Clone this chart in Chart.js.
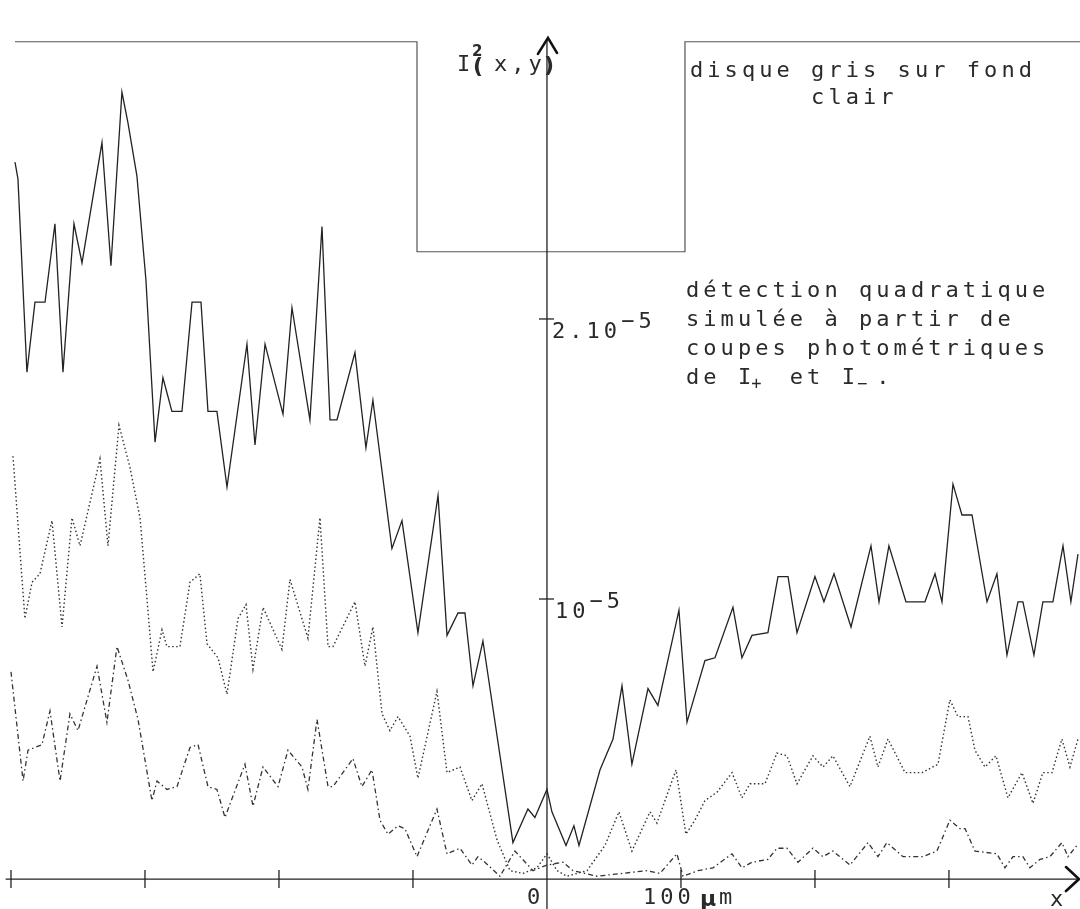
<!DOCTYPE html>
<html>
<head>
<meta charset="utf-8">
<script src="https://cdn.jsdelivr.net/npm/chart.js@4.4.1/dist/chart.umd.min.js"></script>
<style>
html, body { margin: 0; padding: 0; background: #fff; }
#wrap { width: 1080px; height: 909px; }
</style>
</head>
<body>
<div id="wrap"><canvas id="myChart"></canvas></div>
<script>
// x in micrometres, values in units of 10^-5
var solidX = [-397.0,-394.8,-388.1,-382.1,-374.6,-367.2,-361.2,-353.0,-347.0,-332.1,-325.4,-317.2,-312.7,-306.0,-299.3,-292.5,-286.6,-279.9,-272.4,-264.9,-258.2,-253.0,-246.3,-238.8,-223.9,-217.9,-210.4,-197.0,-190.3,-176.9,-167.9,-161.9,-156.7,-143.3,-135.1,-129.9,-115.7,-108.2,-96.3,-81.3,-74.6,-66.4,-61.2,-55.2,-47.8,-25.4,-14.2,-9.0,0,3.7,14.2,20.1,23.9,39.6,49.3,56.0,63.4,75.4,82.8,98.5,104.5,117.9,125.4,138.8,145.5,153.0,164.9,172.4,179.9,186.6,200.0,206.7,214.2,226.9,241.8,247.8,255.2,267.9,282.1,289.6,294.8,303.0,309.7,317.2,328.4,335.8,343.3,351.5,355.2,363.4,370.1,377.6,385.1,391.0,396.3];
var solidY = [2.56,2.50,1.81,2.06,2.06,2.34,1.81,2.34,2.20,2.63,2.19,2.81,2.70,2.51,2.14,1.56,1.79,1.67,1.67,2.06,2.06,1.67,1.67,1.40,1.91,1.55,1.91,1.66,2.04,1.64,2.33,1.64,1.64,1.88,1.54,1.71,1.18,1.28,0.88,1.37,0.87,0.95,0.95,0.69,0.85,0.13,0.25,0.22,0.32,0.24,0.12,0.19,0.12,0.39,0.50,0.69,0.41,0.68,0.62,0.96,0.56,0.78,0.79,0.97,0.79,0.87,0.88,1.08,1.08,0.88,1.08,0.99,1.09,0.90,1.19,0.99,1.19,0.99,0.99,1.09,0.99,1.41,1.30,1.30,0.99,1.09,0.80,0.99,0.99,0.80,0.99,0.99,1.19,0.99,1.16];

var dotX = [-398.5,-389.6,-384.3,-378.4,-369.4,-361.9,-354.5,-348.5,-333.6,-327.6,-319.4,-311.2,-303.7,-298.5,-294.0,-287.3,-283.6,-273.9,-266.4,-259.0,-253.7,-245.5,-238.8,-230.6,-224.6,-219.4,-211.9,-197.8,-191.8,-178.4,-169.4,-163.4,-159.7,-143.3,-135.8,-129.9,-123.1,-117.2,-111.2,-102.2,-96.3,-82.1,-74.6,-64.9,-56.0,-48.5,-37.3,-27.6,-17.9,-7.5,0,7.5,14.9,29.9,43.3,53.7,63.4,76.9,82.1,96.3,103.7,110.4,117.9,126.9,138.1,145.5,151.5,162.7,171.6,179.1,186.6,198.5,206.0,213.4,226.1,241.0,247.0,254.5,267.2,279.9,291.8,300.7,306.7,314.2,319.4,326.9,335.1,344.0,354.5,362.7,370.1,376.9,384.3,390.3,396.3];
var dotY = [1.51,0.93,1.06,1.09,1.28,0.90,1.29,1.19,1.50,1.19,1.62,1.47,1.29,1.00,0.74,0.89,0.83,0.83,1.06,1.09,0.84,0.79,0.66,0.93,0.98,0.75,0.97,0.82,1.07,0.86,1.29,0.83,0.83,0.99,0.76,0.90,0.59,0.53,0.58,0.51,0.36,0.67,0.38,0.40,0.28,0.34,0.14,0.03,0.02,0.04,0.09,0.03,0.01,0.03,0.12,0.24,0.10,0.24,0.20,0.39,0.16,0.21,0.28,0.31,0.38,0.29,0.34,0.34,0.45,0.44,0.34,0.44,0.40,0.44,0.33,0.51,0.40,0.50,0.38,0.38,0.41,0.64,0.58,0.58,0.46,0.40,0.44,0.29,0.38,0.27,0.38,0.38,0.50,0.40,0.50];

var dashX = [-400.0,-391.0,-387.3,-376.9,-370.9,-363.4,-356.0,-350.0,-335.8,-328.4,-320.9,-312.7,-305.2,-294.8,-291.0,-283.6,-276.1,-266.4,-260.4,-253.0,-246.3,-240.3,-225.4,-219.4,-211.9,-200.7,-193.3,-182.8,-178.4,-171.6,-163.4,-159.7,-144.8,-138.1,-130.6,-124.6,-118.7,-111.2,-106.0,-97.0,-82.1,-74.6,-64.9,-56.0,-51.5,-46.3,-35.1,-23.9,-10.4,0,11.9,19.4,37.3,74.6,84.3,97.0,101.5,112.7,123.9,138.1,145.5,153.0,164.9,171.6,179.1,187.3,198.5,206.0,213.4,226.1,239.6,247.0,253.7,265.7,280.6,291.0,300.7,308.2,312.0,319.4,335.8,341.8,347.8,355.2,360.4,367.9,375.4,384.3,388.8,395.5];
var dashY = [0.74,0.35,0.46,0.48,0.60,0.35,0.59,0.53,0.76,0.56,0.83,0.71,0.57,0.28,0.35,0.32,0.33,0.47,0.48,0.33,0.32,0.22,0.41,0.26,0.40,0.33,0.46,0.40,0.32,0.57,0.33,0.33,0.43,0.33,0.39,0.21,0.16,0.19,0.18,0.08,0.25,0.09,0.11,0.05,0.08,0.06,0.01,0.10,0.03,0.05,0.06,0.03,0.01,0.03,0.02,0.09,0.01,0.03,0.04,0.09,0.04,0.06,0.07,0.11,0.11,0.06,0.11,0.08,0.10,0.05,0.13,0.08,0.13,0.08,0.08,0.10,0.21,0.18,0.18,0.10,0.09,0.04,0.08,0.08,0.04,0.07,0.08,0.13,0.08,0.12];

// profile of the grey disc on a light background
var discX = [-397, -97, -97, 103, 103, 398];
var discY = [2.99, 2.99, 2.24, 2.24, 2.99, 2.99];

var xTicks = [-400, -300, -200, -100, 100, 200, 300];
var yTicks = [1, 2];
var yTickLabels = ['10', '2.10'];

function pts(xs, ys) {
    return xs.map(function(v, i) { return {x: v, y: ys[i]}; });
}

var PITCH = 17.3;
function mono(ctx, str, x, y) {
    for (var i = 0; i < str.length; i++) {
        ctx.fillText(str[i], x + i * PITCH, y);
    }
}

var axesPlugin = {
    id: 'axes',
    afterDatasetsDraw: function(chart) {
        var ctx = chart.ctx;
        var xs = chart.scales.x, ys = chart.scales.y;
        var x0 = xs.getPixelForValue(0), y0 = ys.getPixelForValue(0);
        ctx.save();
        ctx.strokeStyle = '#222';
        ctx.lineWidth = 1.3;

        // x axis
        ctx.beginPath();
        ctx.moveTo(xs.getPixelForValue(-404), y0);
        ctx.lineTo(xs.getPixelForValue(397), y0);
        ctx.stroke();
        // y axis
        ctx.beginPath();
        ctx.moveTo(x0, chart.height);
        ctx.lineTo(x0, ys.getPixelForValue(3.0));
        ctx.stroke();

        // ticks
        xTicks.forEach(function(t) {
            var px = xs.getPixelForValue(t);
            ctx.beginPath();
            ctx.moveTo(px, y0 - 9);
            ctx.lineTo(px, y0 + 9);
            ctx.stroke();
        });
        yTicks.forEach(function(t) {
            var py = ys.getPixelForValue(t);
            ctx.beginPath();
            ctx.moveTo(x0 - 8, py);
            ctx.lineTo(x0 + 7, py);
            ctx.stroke();
        });

        // arrow heads (hand drawn on the original)
        ctx.strokeStyle = '#111';
        ctx.lineWidth = 2.6;
        ctx.lineCap = 'round';
        var yTop = ys.getPixelForValue(3.0);
        ctx.beginPath();
        ctx.moveTo(x0 - 9, yTop + 15);
        ctx.lineTo(x0 + 1, yTop - 1);
        ctx.lineTo(x0 + 10, yTop + 14);
        ctx.stroke();
        ctx.beginPath();
        ctx.moveTo(1066, y0 - 12);
        ctx.lineTo(1079, y0);
        ctx.lineTo(1066, y0 + 12);
        ctx.stroke();

        // tick labels
        ctx.fillStyle = '#2a2a2a';
        ctx.font = '22px "DejaVu Sans Mono"';
        ctx.textBaseline = 'alphabetic';
        ctx.textAlign = 'left';
        yTicks.forEach(function(t, i) {
            var py = ys.getPixelForValue(t);
            var lab = yTickLabels[i];
            var lx = x0 + (i === 0 ? 8 : 5);
            mono(ctx, lab, lx, py + 19);
            mono(ctx, '\u22125', lx + lab.length * PITCH, py + 9);
        });
        mono(ctx, '0', x0 - 20, y0 + 25);
        mono(ctx, '100', xs.getPixelForValue(100) - 38, y0 + 25);
        ctx.font = 'bold 22px "DejaVu Sans"';
        ctx.fillText('\u03bc', xs.getPixelForValue(100) + 19, y0 + 27);
        ctx.font = '22px "DejaVu Sans Mono"';
        ctx.fillText('m', xs.getPixelForValue(100) + 38, y0 + 25);
        ctx.fillText('x', 1050, y0 + 27);

        // y axis title I²(x,y)
        ctx.fillText('I', 457, 71);
        mono(ctx, 'x,y', 494, 71);
        ctx.font = 'bold 15px "DejaVu Sans"';
        ctx.fillText('2', 472, 56);
        ctx.font = 'bold 22px "DejaVu Sans"';
        ctx.fillText('(', 473, 73);
        ctx.fillText(')', x0 - 3, 72);

        // annotations
        ctx.font = '22px "DejaVu Sans Mono"';
        mono(ctx, 'disque gris sur fond', 690, 77);
        mono(ctx, '       clair', 690, 104);
        mono(ctx, 'détection quadratique', 686, 297);
        mono(ctx, 'simulée à partir de', 686, 326);
        mono(ctx, 'coupes photométriques', 686, 355);
        mono(ctx, 'de I  et I .', 686, 384);
        ctx.font = '17px "DejaVu Sans Mono"';
        ctx.fillText('+', 686 + 4 * PITCH - 4, 389);
        ctx.fillText('\u2212', 686 + 10 * PITCH - 2, 389);
        ctx.restore();
    }
};

var ctx = document.getElementById('myChart');
var myChart = new Chart(ctx, {
    type: 'line',
    data: {
        datasets: [{
            data: pts(discX, discY),
            borderColor: '#555',
            borderWidth: 1.2
        }, {
            data: pts(solidX, solidY),
            borderColor: '#222',
            borderWidth: 1.3
        }, {
            data: pts(dotX, dotY),
            borderColor: '#333',
            borderWidth: 1.4,
            borderDash: [1.5, 2.5]
        }, {
            data: pts(dashX, dashY),
            borderColor: '#333',
            borderWidth: 1.3,
            borderDash: [5, 3, 1.5, 3]
        }]
    },
    options: {
        animation: false,
        responsive: true,
        maintainAspectRatio: false,
        layout: { padding: 0 },
        elements: {
            point: { radius: 0 },
            line: { tension: 0, fill: false }
        },
        plugins: {
            legend: { display: false },
            tooltip: { enabled: false }
        },
        scales: {
            x: { type: 'linear', min: -408.2, max: 397.8, display: false },
            y: { type: 'linear', min: -0.107, max: 3.139, display: false }
        }
    },
    plugins: [axesPlugin]
});
</script>
</body>
</html>
